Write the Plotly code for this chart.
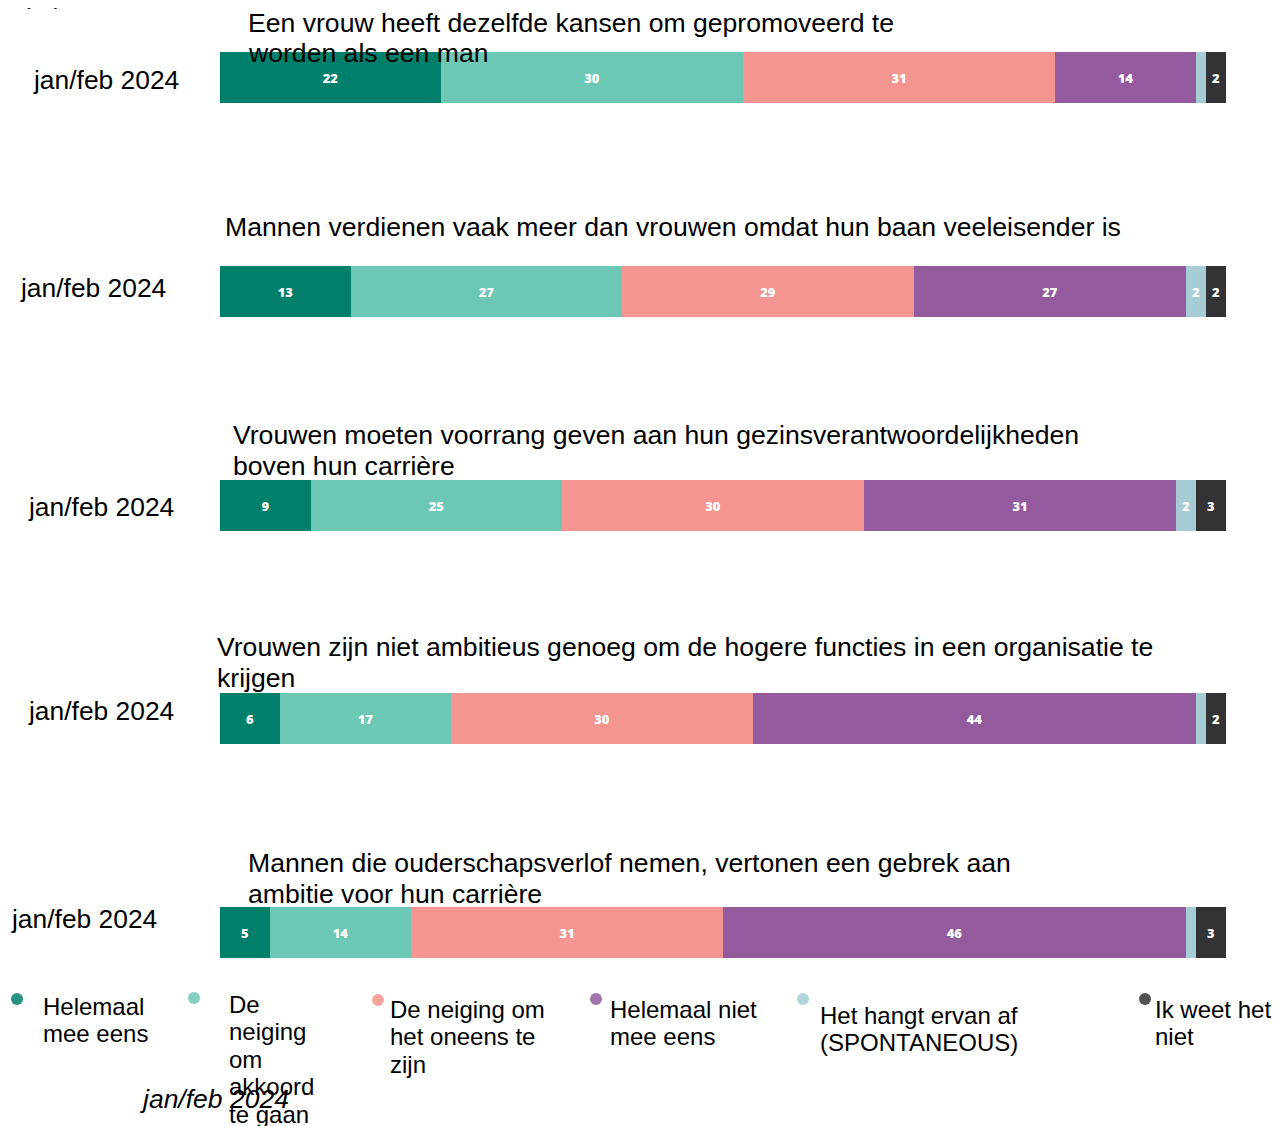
import plotly.graph_objects as go

# ---------------- data ----------------
categories = [
    "Helemaal mee eens",
    "De neiging om akkoord te gaan",
    "De neiging om het oneens te zijn",
    "Helemaal niet mee eens",
    "Het hangt ervan af (SPONTANEOUS)",
    "Ik weet het niet",
]
statements = [
    "Een vrouw heeft dezelfde kansen om gepromoveerd te worden als een man",
    "Mannen verdienen vaak meer dan vrouwen omdat hun baan veeleisender is",
    "Vrouwen moeten voorrang geven aan hun gezinsverantwoordelijkheden boven hun carrière",
    "Vrouwen zijn niet ambitieus genoeg om de hogere functies in een organisatie te krijgen",
    "Mannen die ouderschapsverlof nemen, vertonen een gebrek aan ambitie voor hun carrière",
]
period = "jan/feb 2024"
unit_label = "(%)"

s1_values = [22, 30, 31, 14, 1, 2]
s2_values = [13, 27, 29, 27, 2, 2]
s3_values = [9, 25, 30, 31, 2, 3]
s4_values = [6, 17, 30, 44, 1, 2]
s5_values = [5, 14, 31, 46, 1, 3]
rows = [s1_values, s2_values, s3_values, s4_values, s5_values]

# ---------------- styling / layout ----------------
OFF = 8            # page body margin of the browser
W, H = 1282 - OFF, 1126 - OFF
PAD = 2            # annotation box padding
colors = ["#00806A", "#6DC7B5", "#F49591", "#935A9E", "#A6CDD5", "#333336"]
FONT = "Liberation Sans, Arial, sans-serif"

def px(x):
    return (x - OFF) / W

def py(y):
    return 1 - (y - OFF) / H

bar_tops = [52, 266, 480, 693, 907]
bar_h = 51
x_left, x_right = 220, 1226

# title line wrapping as in the reference
title_lines = [
    ["Een vrouw heeft dezelfde kansen om gepromoveerd te", "worden als een man"],
    ["Mannen verdienen vaak meer dan vrouwen omdat hun baan veeleisender is"],
    ["Vrouwen moeten voorrang geven aan hun gezinsverantwoordelijkheden", "boven hun carrière"],
    ["Vrouwen zijn niet ambitieus genoeg om de hogere functies in een organisatie te", "krijgen"],
    ["Mannen die ouderschapsverlof nemen, vertonen een gebrek aan", "ambitie voor hun carrière"],
]
title_x = [248, 225, 233, 217, 248]
title_y0 = [23, 227, 435, 647, 863]
label_right = [179, 166, 174, 174, 157]
label_y = [80, 288, 507, 711, 919]

fig = go.Figure()
annotations = []
shapes = []

for i, vals in enumerate(rows):
    ax = "" if i == 0 else str(i + 1)
    for j, v in enumerate(vals):
        fig.add_trace(go.Bar(
            x=[v], y=[0], orientation="h",
            name=categories[j],
            marker=dict(color=colors[j], line=dict(width=0)),
            text=[str(v) if v >= 2 else ""],
            textposition="inside", insidetextanchor="middle",
            textangle=0, constraintext="none",
            textfont=dict(family="Open Sans, sans-serif", size=13, color="white", weight=800),
            xaxis="x" + ax, yaxis="y" + ax,
            showlegend=False, hoverinfo="name+x",
        ))
    top, bot = bar_tops[i], bar_tops[i] + bar_h
    fig.layout["xaxis" + ax] = dict(
        domain=[px(x_left), px(x_right)], range=[0, 100],
        visible=False, anchor="y" + ax, fixedrange=True,
    )
    fig.layout["yaxis" + ax] = dict(
        domain=[py(bot), py(top)], range=[-0.5, 0.5],
        visible=False, anchor="x" + ax, fixedrange=True,
    )
    for k, line in enumerate(title_lines[i]):
        annotations.append(dict(
            text=line, xref="paper", yref="paper",
            x=px(title_x[i] - PAD), y=py(title_y0[i] + 30.5 * k),
            xanchor="left", yanchor="middle", showarrow=False,
            font=dict(family=FONT, size=26.6, color="black"),
        ))
    annotations.append(dict(
        text=period, xref="paper", yref="paper",
        x=px(label_right[i] + PAD), y=py(label_y[i]),
        xanchor="right", yanchor="middle", showarrow=False,
        font=dict(family=FONT, size=26.4, color="black"),
    ))

# legend drawn manually (wrapped labels)
legend_items = [
    (17, 999, 43, ["Helemaal", "mee eens"], 1006),
    (194, 998, 229, ["De", "neiging", "om", "akkoord", "te gaan"], 1004),
    (378, 1000, 390, ["De neiging om", "het oneens te", "zijn"], 1009),
    (596, 999, 610, ["Helemaal niet", "mee eens"], 1009),
    (803, 999, 820, ["Het hangt ervan af", "(SPONTANEOUS)"], 1015),
    (1145, 999, 1155, ["Ik weet het", "niet"], 1009),
]
for j, (cx, cy, tx, lines, ty) in enumerate(legend_items):
    r = 6
    shapes.append(dict(
        type="circle", xref="paper", yref="paper",
        x0=px(cx - r), x1=px(cx + r), y0=py(cy + r), y1=py(cy - r),
        fillcolor=colors[j], line=dict(width=0), opacity=0.85,
    ))
    for k, line in enumerate(lines):
        annotations.append(dict(
            text=line, xref="paper", yref="paper",
            x=px(tx - PAD), y=py(ty + 27.5 * k),
            xanchor="left", yanchor="middle", showarrow=False,
            font=dict(family=FONT, size=24, color="black"),
        ))

annotations.append(dict(
    text="<i>" + period + "</i>", xref="paper", yref="paper",
    x=px(140 - PAD), y=py(1099), xanchor="left", yanchor="middle", showarrow=False,
    font=dict(family=FONT, size=26.5, color="black"),
))
annotations.append(dict(
    text=unit_label, xref="paper", yref="paper",
    x=px(22 - PAD), y=py(-5), xanchor="left", yanchor="middle", showarrow=False,
    font=dict(family=FONT, size=26, color="black"),
))

fig.update_layout(
    width=W, height=H,
    margin=dict(l=0, r=0, t=0, b=0),
    barmode="stack", bargap=0,
    paper_bgcolor="white", plot_bgcolor="white",
    annotations=annotations, shapes=shapes,
    showlegend=False,
)

fig.write_html("out.html")
